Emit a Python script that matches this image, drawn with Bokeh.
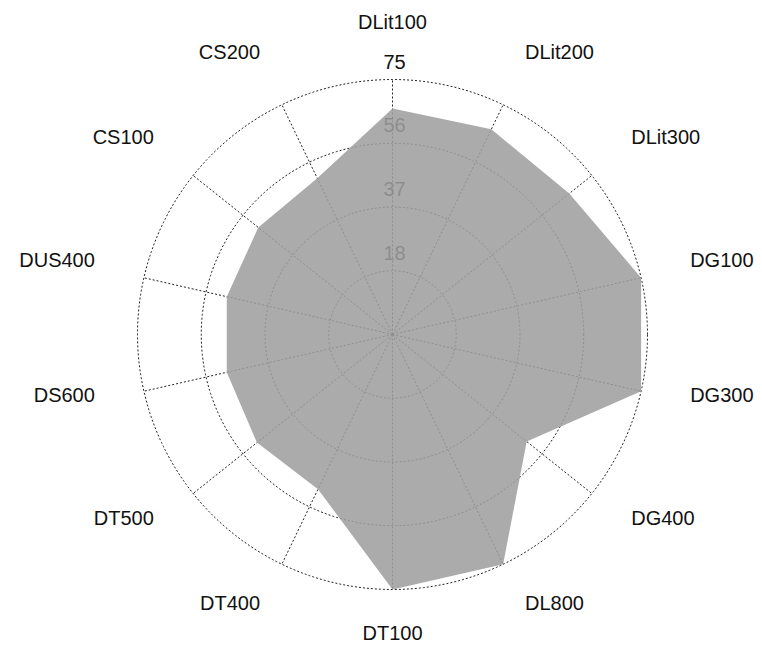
import numpy as np
from bokeh.plotting import figure
from bokeh.models import Range1d
from bokeh.core.properties import value
from bokeh.embed import file_html
from bokeh.resources import INLINE

categories = ["DLit100", "DLit200", "DLit300", "DG100", "DG300", "DG400", "DL800",
              "DT100", "DT400", "DT500", "DS600", "DUS400", "CS100", "CS200"]
values = [66.5, 67, 66.5, 75, 75, 50.5, 75, 75, 50.5, 51, 50, 50, 50.5, 51]
ring_values = [18.75, 37.5, 56.25, 75]
ring_labels = ["18", "37", "56", "75"]
r_max = 75

S = 3.4            # px per data unit
W, H = 762, 646
cx, cy = 392, 334  # centre in figure px

p = figure(width=W, height=H,
           x_range=Range1d(-cx / S, (W - cx) / S),
           y_range=Range1d(-(H - cy) / S, cy / S),
           output_backend="svg", toolbar_location=None,
           x_axis_type=None, y_axis_type=None, min_border=0,
           outline_line_color=None)
p.grid.visible = False

n = len(categories)
ang = np.deg2rad(90 - np.arange(n) * 360.0 / n)

# rings
t = np.linspace(0, 2 * np.pi, 361)
for rv in ring_values:
    p.line(rv * np.cos(t), rv * np.sin(t), line_color="#222222",
           line_width=1, line_dash="2 2")
# spokes
p.multi_line([[0, r_max * np.cos(a)] for a in ang],
             [[0, r_max * np.sin(a)] for a in ang],
             line_color="#222222", line_width=1, line_dash="2 2")

# ring labels
p.text(x=[0.6] * len(ring_values), y=ring_values, text=ring_labels,
       text_font=value("Liberation Sans"), text_font_size="20px",
       text_color="#111111", text_align="center", text_baseline="middle",
       y_offset=-18)

# data polygon
vals = np.array(values)
p.patch(vals * np.cos(ang), vals * np.sin(ang), fill_color="#9f9f9f",
        fill_alpha=0.87, line_color=None)

# category labels
r_lab = 89.8
lx = r_lab * np.cos(ang)
ly = r_lab * np.sin(ang)
aligns = ["left" if c > 0.1 else ("right" if c < -0.1 else "center") for c in np.cos(ang)]
for x0, y0, txt, al in zip(lx, ly, categories, aligns):
    p.text(x=[x0], y=[y0], text=[txt], text_font=value("Liberation Sans"),
           text_font_size="20px", text_color="#111111", text_align=al,
           text_baseline="middle", y_offset=-7)

open("out.html", "w").write(file_html(p, INLINE))
